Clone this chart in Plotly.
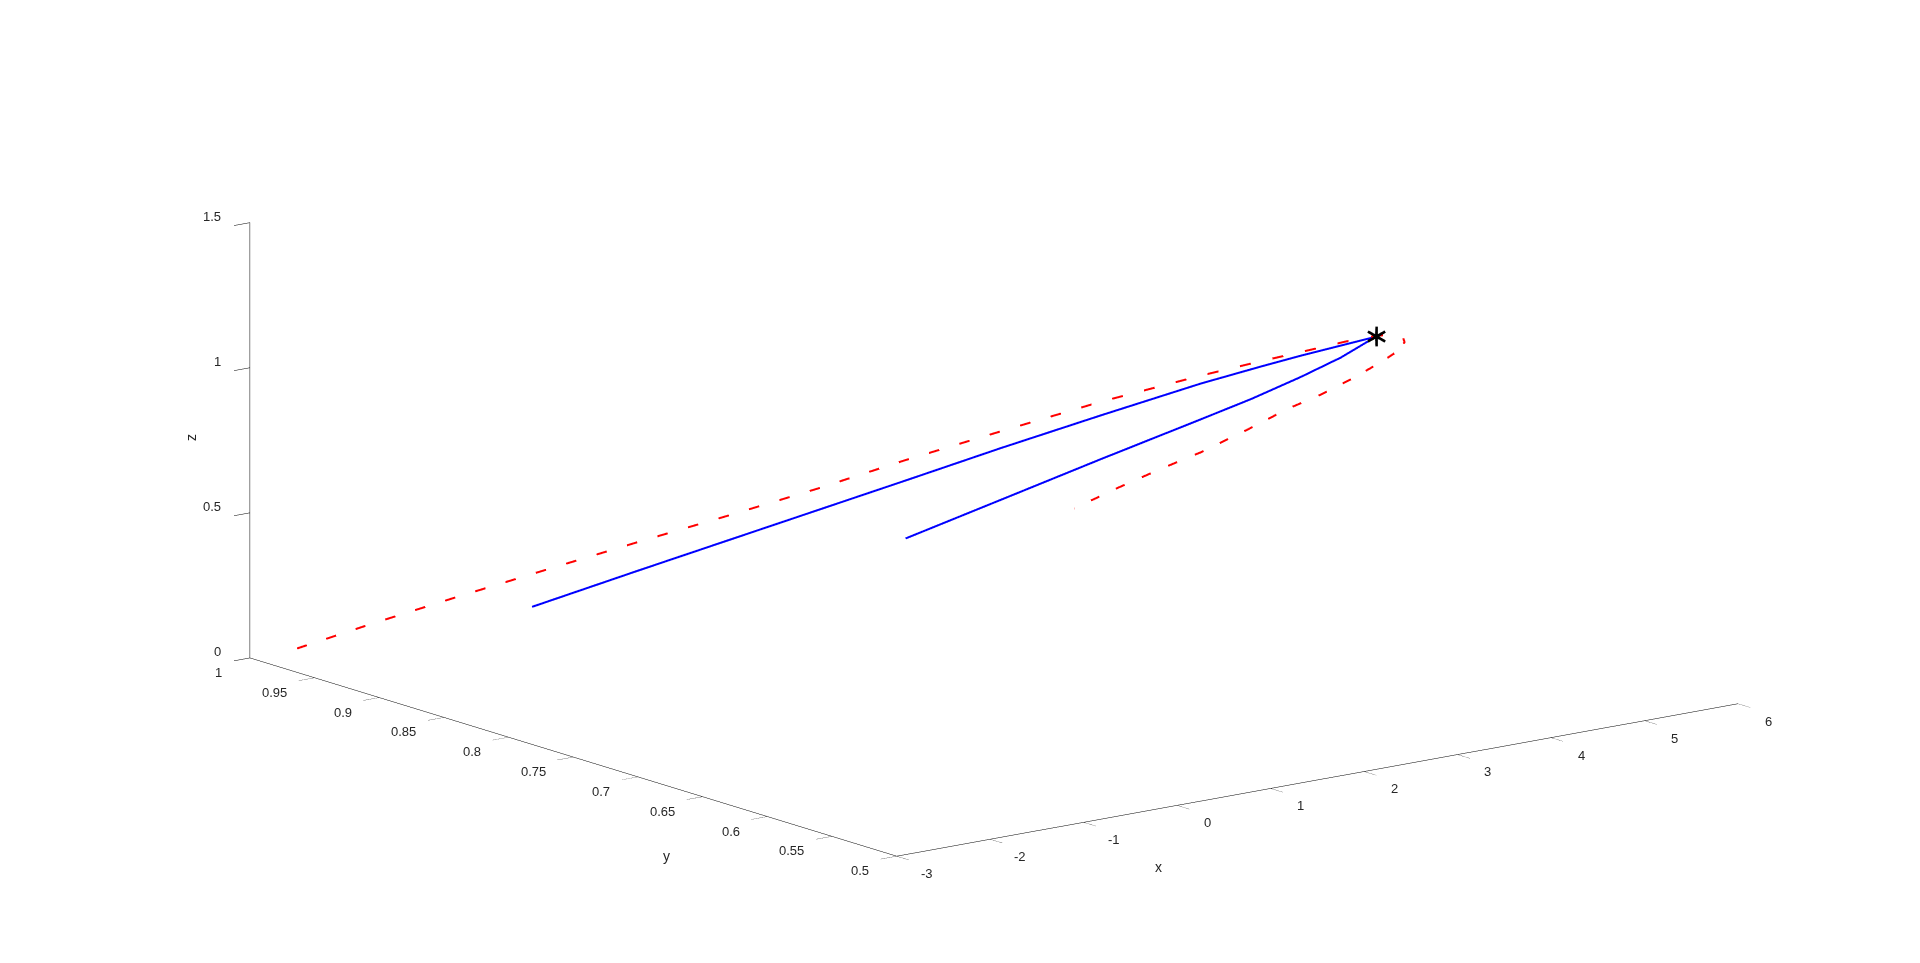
import plotly.graph_objects as go

# Reference trajectory (red dashed)
ref_x = [-2.496, -1.979, -1.344, -0.711, -0.077, 0.557, 1.190, 1.827, 2.501, 3.210, 3.915,
         4.336, 4.688, 4.933, 5.142, 5.258, 5.320, 5.325, 5.270, 5.143, 4.921, 4.701, 4.458,
         4.165, 3.822, 3.532, 3.193, 2.901]
ref_y = [1.000, 0.981, 0.958, 0.935, 0.912, 0.888, 0.865, 0.842, 0.817, 0.791, 0.765,
         0.749, 0.735, 0.726, 0.718, 0.713, 0.710, 0.709, 0.710, 0.714, 0.721, 0.728, 0.737,
         0.746, 0.758, 0.768, 0.779, 0.789]
ref_z = [0.003, 0.082, 0.173, 0.261, 0.348, 0.435, 0.522, 0.616, 0.710, 0.806, 0.890,
         0.937, 0.976, 1.002, 1.020, 1.025, 1.016, 1.000, 0.972, 0.935, 0.880, 0.831, 0.782,
         0.717, 0.641, 0.587, 0.522, 0.459]

# Actual trajectory (blue solid)
act_x = [-0.867, -0.112, 0.526, 1.164, 1.802, 2.480, 3.193, 3.906, 4.330, 4.612, 4.895,
         5.140, 5.014, 4.880, 4.586, 4.223, 3.862, 3.141, 2.418, 1.731]
act_y = [0.936, 0.909, 0.886, 0.863, 0.840, 0.816, 0.790, 0.764, 0.748, 0.738, 0.727,
         0.718, 0.722, 0.726, 0.736, 0.748, 0.761, 0.786, 0.811, 0.835]
act_z = [0.139, 0.256, 0.354, 0.452, 0.550, 0.654, 0.761, 0.865, 0.921, 0.955, 0.989,
         1.017, 0.984, 0.950, 0.886, 0.815, 0.748, 0.619, 0.487, 0.361]

# Marked point (asterisk)
mark_x = [5.142]
mark_y = [0.7177]
mark_z = [1.019]

x_ticks = [-3, -2, -1, 0, 1, 2, 3, 4, 5, 6]
x_tick_labels = ["-3", "-2", "-1", "0", "1", "2", "3", "4", "5", "6"]
y_ticks = [0.5, 0.55, 0.6, 0.65, 0.7, 0.75, 0.8, 0.85, 0.9, 0.95, 1.0]
y_tick_labels = ["0.5", "0.55", "0.6", "0.65", "0.7", "0.75", "0.8", "0.85", "0.9", "0.95", "1"]
z_ticks = [0, 0.5, 1, 1.5]
z_tick_labels = ["0", "0.5", "1", "1.5"]

AX = "#262626"
LINE = "#000000"
FONT = "Liberation Sans, Arial, sans-serif"

fig = go.Figure()
fig.add_trace(go.Scatter3d(x=ref_x, y=ref_y, z=ref_z, mode="lines",
                           line=dict(color="#ff0000", width=4, dash="dash"),
                           showlegend=False, hoverinfo="skip"))
fig.add_trace(go.Scatter3d(x=act_x, y=act_y, z=act_z, mode="lines",
                           line=dict(color="#0000ff", width=4),
                           showlegend=False, hoverinfo="skip"))
fig.add_trace(go.Scatter3d(x=mark_x, y=mark_y, z=mark_z, mode="text", text=["\u2217"],
                           textposition="middle center",
                           textfont=dict(color="black", size=32, family="DejaVu Sans"),
                           showlegend=False, hoverinfo="skip"))


def axis(rng, tv):
    return dict(range=rng, tickvals=tv, autorange=False,
                showgrid=False, zeroline=False, showbackground=False,
                showline=True, linecolor=LINE, linewidth=1,
                ticks="outside", ticklen=20, tickcolor=LINE, tickwidth=1,
                showticklabels=False,
                title=dict(text=""),
                showspikes=False, mirror=False)


S = 2.204
d = 4.0
dirv = (-0.59229, -0.77049, 0.23569)
c = (-0.050613, 0.022681, -0.053043)
eye = dict(x=c[0] + d * dirv[0], y=c[1] + d * dirv[1], z=c[2] + d * dirv[2])

tick_font = dict(family=FONT, size=13, color=AX)
title_font = dict(family=FONT, size=14, color=AX)
annotations = []
for v, t in zip(z_ticks, z_tick_labels):
    annotations.append(dict(x=-3, y=1.0, z=v, text=t, showarrow=False,
                            xanchor="right", yanchor="middle", xshift=-26.7, yshift=6.3,
                            font=tick_font))
for v, t in zip(y_ticks, y_tick_labels):
    annotations.append(dict(x=-3, y=v, z=0, text=t, showarrow=False,
                            xanchor="right", yanchor="middle", xshift=-25.7, yshift=-14.5,
                            font=tick_font))
for v, t in zip(x_ticks, x_tick_labels):
    annotations.append(dict(x=v, y=0.5, z=0, text=t, showarrow=False,
                            xanchor="center", yanchor="middle", xshift=30, yshift=-17.4,
                            font=tick_font))
annotations += [
    dict(x=-0.2, y=0.5, z=0, text="x", showarrow=False, yshift=-58,
         xanchor="center", yanchor="middle", font=title_font),
    dict(x=-3, y=0.678, z=0, text="y", showarrow=False, yshift=-70,
         xanchor="center", yanchor="middle", font=title_font),
    dict(x=-3, y=1.0, z=0.761, text="z", showarrow=False, xshift=-59, textangle=-90,
         xanchor="center", yanchor="middle", font=title_font),
]

fig.update_layout(
    width=1920, height=963,
    margin=dict(l=0, r=0, t=0, b=0),
    paper_bgcolor="white",
    scene=dict(
        xaxis=axis([-3, 6], x_ticks),
        yaxis=axis([0.5, 1.0], y_ticks),
        zaxis=axis([0, 1.5], z_ticks),
        aspectmode="manual",
        aspectratio=dict(x=1.0 * S, y=1.0 * S, z=0.422 * S),
        camera=dict(eye=eye, center=dict(x=c[0], y=c[1], z=c[2]),
                    up=dict(x=0, y=0, z=1),
                    projection=dict(type="orthographic")),
        bgcolor="white",
        domain=dict(x=[0, 1], y=[0, 1]),
        annotations=annotations,
    ),
)

fig.write_html("out.html")
